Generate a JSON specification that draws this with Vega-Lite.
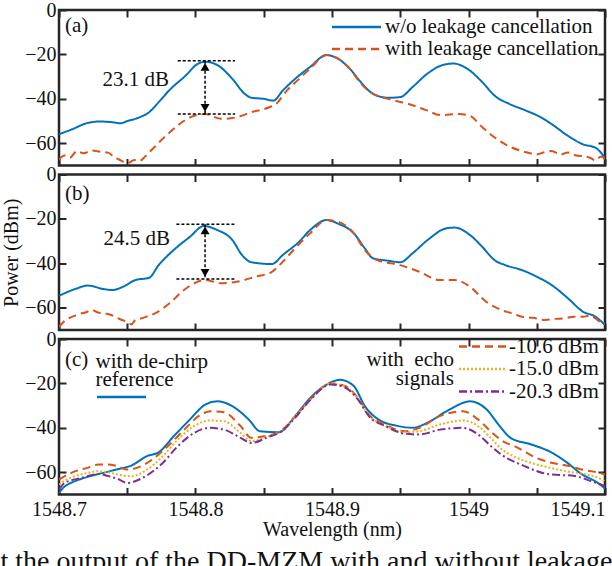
{
  "$schema": "https://vega.github.io/schema/vega-lite/v6.json",
  "padding": {"left": 0, "right": 5, "top": -2, "bottom": 0},
  "config": {
    "font": "Liberation Serif",
    "view": {"stroke": "#262626", "strokeWidth": 2.5},
    "axis": {"domain": false, "grid": false, "tickSize": -7, "tickWidth": 2, "tickColor": "#262626", "labelFont": "Liberation Serif", "labelFontSize": 20, "labelColor": "#111", "titleFont": "Liberation Serif", "titleFontSize": 20, "titleFontWeight": "normal", "titleColor": "#111", "labelFlush": false},
    "legend": {"labelFont": "Liberation Serif", "labelFontSize": 21, "labelColor": "#111", "titleFont": "Liberation Serif", "titleFontSize": 21, "titleFontWeight": "normal", "titleColor": "#111", "symbolType": "stroke", "symbolStrokeWidth": 2.5, "padding": 0, "labelLimit": 400, "titleLimit": 400},
    "title": {"font": "Liberation Serif", "fontSize": 21, "fontWeight": "normal", "color": "#111"},
    "line": {"interpolate": "monotone"}
  },
  "datasets": {
    "a": [
      {"x":1548.700,"p":-55.9,"s":"w/o leakage cancellation"},{"x":1548.710,"p":-53.6,"s":"w/o leakage cancellation"},{"x":1548.720,"p":-51.0,"s":"w/o leakage cancellation"},{"x":1548.730,"p":-50.2,"s":"w/o leakage cancellation"},{"x":1548.740,"p":-50.6,"s":"w/o leakage cancellation"},{"x":1548.745,"p":-51.0,"s":"w/o leakage cancellation"},{"x":1548.750,"p":-50.0,"s":"w/o leakage cancellation"},{"x":1548.759,"p":-48.3,"s":"w/o leakage cancellation"},{"x":1548.766,"p":-46.0,"s":"w/o leakage cancellation"},{"x":1548.773,"p":-41.5,"s":"w/o leakage cancellation"},{"x":1548.781,"p":-36.0,"s":"w/o leakage cancellation"},{"x":1548.793,"p":-29.4,"s":"w/o leakage cancellation"},{"x":1548.801,"p":-24.5,"s":"w/o leakage cancellation"},{"x":1548.807,"p":-23.3,"s":"w/o leakage cancellation"},{"x":1548.816,"p":-24.8,"s":"w/o leakage cancellation"},{"x":1548.827,"p":-31.0,"s":"w/o leakage cancellation"},{"x":1548.836,"p":-37.7,"s":"w/o leakage cancellation"},{"x":1548.841,"p":-39.5,"s":"w/o leakage cancellation"},{"x":1548.850,"p":-40.0,"s":"w/o leakage cancellation"},{"x":1548.857,"p":-40.8,"s":"w/o leakage cancellation"},{"x":1548.864,"p":-36.2,"s":"w/o leakage cancellation"},{"x":1548.873,"p":-31.0,"s":"w/o leakage cancellation"},{"x":1548.884,"p":-25.6,"s":"w/o leakage cancellation"},{"x":1548.896,"p":-20.3,"s":"w/o leakage cancellation"},{"x":1548.904,"p":-21.8,"s":"w/o leakage cancellation"},{"x":1548.913,"p":-26.4,"s":"w/o leakage cancellation"},{"x":1548.921,"p":-32.4,"s":"w/o leakage cancellation"},{"x":1548.930,"p":-37.7,"s":"w/o leakage cancellation"},{"x":1548.941,"p":-39.5,"s":"w/o leakage cancellation"},{"x":1548.950,"p":-39.2,"s":"w/o leakage cancellation"},{"x":1548.959,"p":-34.7,"s":"w/o leakage cancellation"},{"x":1548.970,"p":-28.6,"s":"w/o leakage cancellation"},{"x":1548.981,"p":-24.8,"s":"w/o leakage cancellation"},{"x":1548.989,"p":-24.1,"s":"w/o leakage cancellation"},{"x":1548.999,"p":-26.4,"s":"w/o leakage cancellation"},{"x":1549.010,"p":-32.4,"s":"w/o leakage cancellation"},{"x":1549.019,"p":-38.5,"s":"w/o leakage cancellation"},{"x":1549.030,"p":-42.3,"s":"w/o leakage cancellation"},{"x":1549.041,"p":-45.0,"s":"w/o leakage cancellation"},{"x":1549.053,"p":-48.3,"s":"w/o leakage cancellation"},{"x":1549.061,"p":-51.4,"s":"w/o leakage cancellation"},{"x":1549.073,"p":-56.7,"s":"w/o leakage cancellation"},{"x":1549.084,"p":-60.5,"s":"w/o leakage cancellation"},{"x":1549.093,"p":-62.0,"s":"w/o leakage cancellation"},{"x":1549.100,"p":-66.5,"s":"w/o leakage cancellation"},
      {"x":1548.700,"p":-67.3,"s":"with leakage cancellation"},{"x":1548.704,"p":-65.5,"s":"with leakage cancellation"},{"x":1548.708,"p":-66.5,"s":"with leakage cancellation"},{"x":1548.713,"p":-63.5,"s":"with leakage cancellation"},{"x":1548.718,"p":-64.5,"s":"with leakage cancellation"},{"x":1548.724,"p":-63.2,"s":"with leakage cancellation"},{"x":1548.730,"p":-63.8,"s":"with leakage cancellation"},{"x":1548.736,"p":-64.2,"s":"with leakage cancellation"},{"x":1548.740,"p":-66.0,"s":"with leakage cancellation"},{"x":1548.744,"p":-67.3,"s":"with leakage cancellation"},{"x":1548.748,"p":-68.5,"s":"with leakage cancellation"},{"x":1548.751,"p":-68.8,"s":"with leakage cancellation"},{"x":1548.755,"p":-67.5,"s":"with leakage cancellation"},{"x":1548.759,"p":-68.0,"s":"with leakage cancellation"},{"x":1548.763,"p":-66.0,"s":"with leakage cancellation"},{"x":1548.767,"p":-63.5,"s":"with leakage cancellation"},{"x":1548.776,"p":-58.0,"s":"with leakage cancellation"},{"x":1548.787,"p":-52.0,"s":"with leakage cancellation"},{"x":1548.796,"p":-48.3,"s":"with leakage cancellation"},{"x":1548.807,"p":-46.8,"s":"with leakage cancellation"},{"x":1548.819,"p":-49.0,"s":"with leakage cancellation"},{"x":1548.830,"p":-48.3,"s":"with leakage cancellation"},{"x":1548.841,"p":-46.0,"s":"with leakage cancellation"},{"x":1548.853,"p":-44.0,"s":"with leakage cancellation"},{"x":1548.859,"p":-42.3,"s":"with leakage cancellation"},{"x":1548.867,"p":-36.2,"s":"with leakage cancellation"},{"x":1548.876,"p":-31.0,"s":"with leakage cancellation"},{"x":1548.884,"p":-26.4,"s":"with leakage cancellation"},{"x":1548.896,"p":-20.3,"s":"with leakage cancellation"},{"x":1548.904,"p":-21.8,"s":"with leakage cancellation"},{"x":1548.913,"p":-26.4,"s":"with leakage cancellation"},{"x":1548.921,"p":-33.0,"s":"with leakage cancellation"},{"x":1548.930,"p":-37.7,"s":"with leakage cancellation"},{"x":1548.941,"p":-40.0,"s":"with leakage cancellation"},{"x":1548.956,"p":-42.3,"s":"with leakage cancellation"},{"x":1548.970,"p":-45.3,"s":"with leakage cancellation"},{"x":1548.979,"p":-47.3,"s":"with leakage cancellation"},{"x":1548.993,"p":-46.8,"s":"with leakage cancellation"},{"x":1549.001,"p":-47.6,"s":"with leakage cancellation"},{"x":1549.010,"p":-52.7,"s":"with leakage cancellation"},{"x":1549.019,"p":-57.3,"s":"with leakage cancellation"},{"x":1549.027,"p":-60.5,"s":"with leakage cancellation"},{"x":1549.039,"p":-63.5,"s":"with leakage cancellation"},{"x":1549.045,"p":-64.5,"s":"with leakage cancellation"},{"x":1549.050,"p":-65.0,"s":"with leakage cancellation"},{"x":1549.056,"p":-64.0,"s":"with leakage cancellation"},{"x":1549.061,"p":-63.5,"s":"with leakage cancellation"},{"x":1549.067,"p":-65.0,"s":"with leakage cancellation"},{"x":1549.073,"p":-64.2,"s":"with leakage cancellation"},{"x":1549.079,"p":-65.5,"s":"with leakage cancellation"},{"x":1549.084,"p":-65.8,"s":"with leakage cancellation"},{"x":1549.089,"p":-66.5,"s":"with leakage cancellation"},{"x":1549.093,"p":-67.7,"s":"with leakage cancellation"},{"x":1549.097,"p":-66.0,"s":"with leakage cancellation"},{"x":1549.100,"p":-67.3,"s":"with leakage cancellation"}
    ],
    "b": [
      {"x":1548.700,"p":-54.6,"s":"w/o leakage cancellation"},{"x":1548.713,"p":-51.3,"s":"w/o leakage cancellation"},{"x":1548.721,"p":-50.0,"s":"w/o leakage cancellation"},{"x":1548.733,"p":-51.6,"s":"w/o leakage cancellation"},{"x":1548.739,"p":-52.0,"s":"w/o leakage cancellation"},{"x":1548.747,"p":-50.5,"s":"w/o leakage cancellation"},{"x":1548.756,"p":-47.5,"s":"w/o leakage cancellation"},{"x":1548.766,"p":-46.5,"s":"w/o leakage cancellation"},{"x":1548.773,"p":-40.8,"s":"w/o leakage cancellation"},{"x":1548.784,"p":-34.0,"s":"w/o leakage cancellation"},{"x":1548.796,"p":-28.0,"s":"w/o leakage cancellation"},{"x":1548.806,"p":-23.2,"s":"w/o leakage cancellation"},{"x":1548.816,"p":-25.0,"s":"w/o leakage cancellation"},{"x":1548.827,"p":-29.5,"s":"w/o leakage cancellation"},{"x":1548.834,"p":-36.2,"s":"w/o leakage cancellation"},{"x":1548.841,"p":-39.5,"s":"w/o leakage cancellation"},{"x":1548.856,"p":-40.3,"s":"w/o leakage cancellation"},{"x":1548.864,"p":-36.2,"s":"w/o leakage cancellation"},{"x":1548.876,"p":-30.2,"s":"w/o leakage cancellation"},{"x":1548.884,"p":-25.0,"s":"w/o leakage cancellation"},{"x":1548.896,"p":-20.5,"s":"w/o leakage cancellation"},{"x":1548.904,"p":-22.0,"s":"w/o leakage cancellation"},{"x":1548.916,"p":-26.5,"s":"w/o leakage cancellation"},{"x":1548.924,"p":-33.2,"s":"w/o leakage cancellation"},{"x":1548.930,"p":-37.7,"s":"w/o leakage cancellation"},{"x":1548.941,"p":-38.8,"s":"w/o leakage cancellation"},{"x":1548.950,"p":-39.5,"s":"w/o leakage cancellation"},{"x":1548.959,"p":-35.5,"s":"w/o leakage cancellation"},{"x":1548.970,"p":-29.5,"s":"w/o leakage cancellation"},{"x":1548.984,"p":-24.2,"s":"w/o leakage cancellation"},{"x":1548.990,"p":-23.9,"s":"w/o leakage cancellation"},{"x":1549.001,"p":-27.2,"s":"w/o leakage cancellation"},{"x":1549.010,"p":-32.5,"s":"w/o leakage cancellation"},{"x":1549.019,"p":-38.5,"s":"w/o leakage cancellation"},{"x":1549.027,"p":-40.8,"s":"w/o leakage cancellation"},{"x":1549.039,"p":-43.0,"s":"w/o leakage cancellation"},{"x":1549.050,"p":-46.0,"s":"w/o leakage cancellation"},{"x":1549.061,"p":-49.8,"s":"w/o leakage cancellation"},{"x":1549.073,"p":-55.8,"s":"w/o leakage cancellation"},{"x":1549.084,"p":-61.8,"s":"w/o leakage cancellation"},{"x":1549.093,"p":-64.0,"s":"w/o leakage cancellation"},{"x":1549.097,"p":-66.0,"s":"w/o leakage cancellation"},{"x":1549.100,"p":-67.8,"s":"w/o leakage cancellation"},
      {"x":1548.700,"p":-68.6,"s":"with leakage cancellation"},{"x":1548.704,"p":-66.0,"s":"with leakage cancellation"},{"x":1548.707,"p":-64.8,"s":"with leakage cancellation"},{"x":1548.712,"p":-63.5,"s":"with leakage cancellation"},{"x":1548.716,"p":-62.6,"s":"with leakage cancellation"},{"x":1548.720,"p":-62.0,"s":"with leakage cancellation"},{"x":1548.724,"p":-61.0,"s":"with leakage cancellation"},{"x":1548.728,"p":-62.0,"s":"with leakage cancellation"},{"x":1548.733,"p":-62.6,"s":"with leakage cancellation"},{"x":1548.737,"p":-63.0,"s":"with leakage cancellation"},{"x":1548.741,"p":-64.0,"s":"with leakage cancellation"},{"x":1548.746,"p":-65.5,"s":"with leakage cancellation"},{"x":1548.750,"p":-66.3,"s":"with leakage cancellation"},{"x":1548.753,"p":-67.5,"s":"with leakage cancellation"},{"x":1548.756,"p":-65.5,"s":"with leakage cancellation"},{"x":1548.759,"p":-65.0,"s":"with leakage cancellation"},{"x":1548.764,"p":-64.0,"s":"with leakage cancellation"},{"x":1548.770,"p":-62.6,"s":"with leakage cancellation"},{"x":1548.781,"p":-58.0,"s":"with leakage cancellation"},{"x":1548.790,"p":-52.8,"s":"with leakage cancellation"},{"x":1548.799,"p":-49.0,"s":"with leakage cancellation"},{"x":1548.807,"p":-47.5,"s":"with leakage cancellation"},{"x":1548.819,"p":-49.0,"s":"with leakage cancellation"},{"x":1548.830,"p":-48.3,"s":"with leakage cancellation"},{"x":1548.844,"p":-46.0,"s":"with leakage cancellation"},{"x":1548.856,"p":-43.8,"s":"with leakage cancellation"},{"x":1548.864,"p":-39.2,"s":"with leakage cancellation"},{"x":1548.873,"p":-33.2,"s":"with leakage cancellation"},{"x":1548.884,"p":-26.5,"s":"with leakage cancellation"},{"x":1548.896,"p":-20.5,"s":"with leakage cancellation"},{"x":1548.904,"p":-21.2,"s":"with leakage cancellation"},{"x":1548.916,"p":-26.5,"s":"with leakage cancellation"},{"x":1548.924,"p":-34.0,"s":"with leakage cancellation"},{"x":1548.933,"p":-38.5,"s":"with leakage cancellation"},{"x":1548.950,"p":-40.8,"s":"with leakage cancellation"},{"x":1548.964,"p":-43.8,"s":"with leakage cancellation"},{"x":1548.979,"p":-47.5,"s":"with leakage cancellation"},{"x":1548.990,"p":-47.5,"s":"with leakage cancellation"},{"x":1549.001,"p":-50.5,"s":"with leakage cancellation"},{"x":1549.013,"p":-57.3,"s":"with leakage cancellation"},{"x":1549.024,"p":-61.0,"s":"with leakage cancellation"},{"x":1549.032,"p":-62.5,"s":"with leakage cancellation"},{"x":1549.039,"p":-64.0,"s":"with leakage cancellation"},{"x":1549.047,"p":-64.5,"s":"with leakage cancellation"},{"x":1549.056,"p":-65.5,"s":"with leakage cancellation"},{"x":1549.063,"p":-65.0,"s":"with leakage cancellation"},{"x":1549.070,"p":-64.8,"s":"with leakage cancellation"},{"x":1549.077,"p":-64.0,"s":"with leakage cancellation"},{"x":1549.084,"p":-64.0,"s":"with leakage cancellation"},{"x":1549.089,"p":-63.5,"s":"with leakage cancellation"},{"x":1549.093,"p":-64.8,"s":"with leakage cancellation"},{"x":1549.097,"p":-66.5,"s":"with leakage cancellation"},{"x":1549.100,"p":-67.0,"s":"with leakage cancellation"}
    ],
    "c": [
      {"x":1548.700,"p":-69.3,"s":"reference"},{"x":1548.703,"p":-67.0,"s":"reference"},{"x":1548.708,"p":-65.0,"s":"reference"},{"x":1548.716,"p":-63.0,"s":"reference"},{"x":1548.729,"p":-60.8,"s":"reference"},{"x":1548.743,"p":-58.6,"s":"reference"},{"x":1548.753,"p":-57.0,"s":"reference"},{"x":1548.764,"p":-52.8,"s":"reference"},{"x":1548.773,"p":-51.0,"s":"reference"},{"x":1548.784,"p":-43.8,"s":"reference"},{"x":1548.796,"p":-36.2,"s":"reference"},{"x":1548.807,"p":-29.5,"s":"reference"},{"x":1548.816,"p":-28.0,"s":"reference"},{"x":1548.827,"p":-30.2,"s":"reference"},{"x":1548.839,"p":-36.2,"s":"reference"},{"x":1548.847,"p":-41.5,"s":"reference"},{"x":1548.861,"p":-42.0,"s":"reference"},{"x":1548.873,"p":-34.7,"s":"reference"},{"x":1548.884,"p":-26.5,"s":"reference"},{"x":1548.896,"p":-20.5,"s":"reference"},{"x":1548.906,"p":-18.3,"s":"reference"},{"x":1548.916,"p":-21.2,"s":"reference"},{"x":1548.924,"p":-30.2,"s":"reference"},{"x":1548.936,"p":-37.0,"s":"reference"},{"x":1548.947,"p":-39.0,"s":"reference"},{"x":1548.959,"p":-40.0,"s":"reference"},{"x":1548.970,"p":-37.7,"s":"reference"},{"x":1548.984,"p":-32.5,"s":"reference"},{"x":1549.001,"p":-28.0,"s":"reference"},{"x":1549.013,"p":-31.5,"s":"reference"},{"x":1549.022,"p":-38.5,"s":"reference"},{"x":1549.031,"p":-44.6,"s":"reference"},{"x":1549.046,"p":-47.5,"s":"reference"},{"x":1549.060,"p":-50.8,"s":"reference"},{"x":1549.073,"p":-56.0,"s":"reference"},{"x":1549.082,"p":-60.5,"s":"reference"},{"x":1549.095,"p":-64.9,"s":"reference"},{"x":1549.100,"p":-67.3,"s":"reference"},
      {"x":1548.700,"p":-63.3,"s":"-10.6 dBm"},{"x":1548.705,"p":-61.5,"s":"-10.6 dBm"},{"x":1548.712,"p":-59.5,"s":"-10.6 dBm"},{"x":1548.721,"p":-58.0,"s":"-10.6 dBm"},{"x":1548.729,"p":-56.5,"s":"-10.6 dBm"},{"x":1548.736,"p":-56.5,"s":"-10.6 dBm"},{"x":1548.743,"p":-57.3,"s":"-10.6 dBm"},{"x":1548.750,"p":-58.8,"s":"-10.6 dBm"},{"x":1548.761,"p":-57.0,"s":"-10.6 dBm"},{"x":1548.770,"p":-53.5,"s":"-10.6 dBm"},{"x":1548.781,"p":-47.5,"s":"-10.6 dBm"},{"x":1548.793,"p":-40.0,"s":"-10.6 dBm"},{"x":1548.804,"p":-34.0,"s":"-10.6 dBm"},{"x":1548.811,"p":-32.5,"s":"-10.6 dBm"},{"x":1548.821,"p":-33.0,"s":"-10.6 dBm"},{"x":1548.833,"p":-39.2,"s":"-10.6 dBm"},{"x":1548.841,"p":-44.5,"s":"-10.6 dBm"},{"x":1548.850,"p":-43.8,"s":"-10.6 dBm"},{"x":1548.861,"p":-42.0,"s":"-10.6 dBm"},{"x":1548.873,"p":-35.0,"s":"-10.6 dBm"},{"x":1548.884,"p":-27.2,"s":"-10.6 dBm"},{"x":1548.899,"p":-20.0,"s":"-10.6 dBm"},{"x":1548.909,"p":-21.0,"s":"-10.6 dBm"},{"x":1548.919,"p":-26.5,"s":"-10.6 dBm"},{"x":1548.927,"p":-34.0,"s":"-10.6 dBm"},{"x":1548.939,"p":-38.5,"s":"-10.6 dBm"},{"x":1548.953,"p":-41.5,"s":"-10.6 dBm"},{"x":1548.964,"p":-40.0,"s":"-10.6 dBm"},{"x":1548.979,"p":-34.7,"s":"-10.6 dBm"},{"x":1548.996,"p":-32.5,"s":"-10.6 dBm"},{"x":1549.007,"p":-36.2,"s":"-10.6 dBm"},{"x":1549.017,"p":-42.0,"s":"-10.6 dBm"},{"x":1549.026,"p":-46.3,"s":"-10.6 dBm"},{"x":1549.034,"p":-48.3,"s":"-10.6 dBm"},{"x":1549.049,"p":-53.3,"s":"-10.6 dBm"},{"x":1549.060,"p":-55.6,"s":"-10.6 dBm"},{"x":1549.074,"p":-57.2,"s":"-10.6 dBm"},{"x":1549.082,"p":-58.6,"s":"-10.6 dBm"},{"x":1549.096,"p":-60.3,"s":"-10.6 dBm"},{"x":1549.100,"p":-61.0,"s":"-10.6 dBm"},
      {"x":1548.700,"p":-65.6,"s":"-15.0 dBm"},{"x":1548.705,"p":-63.5,"s":"-15.0 dBm"},{"x":1548.712,"p":-61.7,"s":"-15.0 dBm"},{"x":1548.721,"p":-60.3,"s":"-15.0 dBm"},{"x":1548.729,"p":-59.5,"s":"-15.0 dBm"},{"x":1548.736,"p":-60.0,"s":"-15.0 dBm"},{"x":1548.743,"p":-61.0,"s":"-15.0 dBm"},{"x":1548.753,"p":-61.8,"s":"-15.0 dBm"},{"x":1548.764,"p":-59.0,"s":"-15.0 dBm"},{"x":1548.776,"p":-52.8,"s":"-15.0 dBm"},{"x":1548.787,"p":-45.3,"s":"-15.0 dBm"},{"x":1548.799,"p":-39.2,"s":"-15.0 dBm"},{"x":1548.810,"p":-36.7,"s":"-15.0 dBm"},{"x":1548.821,"p":-37.0,"s":"-15.0 dBm"},{"x":1548.833,"p":-42.3,"s":"-15.0 dBm"},{"x":1548.841,"p":-46.0,"s":"-15.0 dBm"},{"x":1548.853,"p":-43.8,"s":"-15.0 dBm"},{"x":1548.861,"p":-42.0,"s":"-15.0 dBm"},{"x":1548.873,"p":-35.0,"s":"-15.0 dBm"},{"x":1548.884,"p":-27.5,"s":"-15.0 dBm"},{"x":1548.899,"p":-20.0,"s":"-15.0 dBm"},{"x":1548.909,"p":-21.2,"s":"-15.0 dBm"},{"x":1548.919,"p":-27.0,"s":"-15.0 dBm"},{"x":1548.927,"p":-34.4,"s":"-15.0 dBm"},{"x":1548.939,"p":-39.0,"s":"-15.0 dBm"},{"x":1548.953,"p":-42.0,"s":"-15.0 dBm"},{"x":1548.964,"p":-41.5,"s":"-15.0 dBm"},{"x":1548.979,"p":-38.5,"s":"-15.0 dBm"},{"x":1548.996,"p":-36.7,"s":"-15.0 dBm"},{"x":1549.007,"p":-39.2,"s":"-15.0 dBm"},{"x":1549.017,"p":-45.0,"s":"-15.0 dBm"},{"x":1549.024,"p":-49.5,"s":"-15.0 dBm"},{"x":1549.033,"p":-52.8,"s":"-15.0 dBm"},{"x":1549.046,"p":-55.8,"s":"-15.0 dBm"},{"x":1549.060,"p":-58.0,"s":"-15.0 dBm"},{"x":1549.071,"p":-59.5,"s":"-15.0 dBm"},{"x":1549.085,"p":-60.8,"s":"-15.0 dBm"},{"x":1549.097,"p":-63.0,"s":"-15.0 dBm"},{"x":1549.100,"p":-64.0,"s":"-15.0 dBm"},
      {"x":1548.700,"p":-67.8,"s":"-20.3 dBm"},{"x":1548.704,"p":-64.9,"s":"-20.3 dBm"},{"x":1548.716,"p":-62.6,"s":"-20.3 dBm"},{"x":1548.729,"p":-60.8,"s":"-20.3 dBm"},{"x":1548.736,"p":-61.7,"s":"-20.3 dBm"},{"x":1548.743,"p":-63.0,"s":"-20.3 dBm"},{"x":1548.750,"p":-64.8,"s":"-20.3 dBm"},{"x":1548.761,"p":-62.6,"s":"-20.3 dBm"},{"x":1548.776,"p":-55.8,"s":"-20.3 dBm"},{"x":1548.787,"p":-48.3,"s":"-20.3 dBm"},{"x":1548.799,"p":-42.3,"s":"-20.3 dBm"},{"x":1548.810,"p":-40.0,"s":"-20.3 dBm"},{"x":1548.821,"p":-40.8,"s":"-20.3 dBm"},{"x":1548.833,"p":-44.5,"s":"-20.3 dBm"},{"x":1548.841,"p":-46.8,"s":"-20.3 dBm"},{"x":1548.853,"p":-44.2,"s":"-20.3 dBm"},{"x":1548.861,"p":-42.3,"s":"-20.3 dBm"},{"x":1548.873,"p":-35.5,"s":"-20.3 dBm"},{"x":1548.884,"p":-27.5,"s":"-20.3 dBm"},{"x":1548.899,"p":-20.5,"s":"-20.3 dBm"},{"x":1548.909,"p":-21.7,"s":"-20.3 dBm"},{"x":1548.919,"p":-27.2,"s":"-20.3 dBm"},{"x":1548.927,"p":-34.7,"s":"-20.3 dBm"},{"x":1548.939,"p":-39.2,"s":"-20.3 dBm"},{"x":1548.953,"p":-42.6,"s":"-20.3 dBm"},{"x":1548.964,"p":-43.0,"s":"-20.3 dBm"},{"x":1548.979,"p":-40.8,"s":"-20.3 dBm"},{"x":1548.996,"p":-40.0,"s":"-20.3 dBm"},{"x":1549.007,"p":-43.0,"s":"-20.3 dBm"},{"x":1549.017,"p":-48.5,"s":"-20.3 dBm"},{"x":1549.024,"p":-52.0,"s":"-20.3 dBm"},{"x":1549.041,"p":-57.2,"s":"-20.3 dBm"},{"x":1549.058,"p":-60.8,"s":"-20.3 dBm"},{"x":1549.078,"p":-61.7,"s":"-20.3 dBm"},{"x":1549.090,"p":-64.0,"s":"-20.3 dBm"},{"x":1549.100,"p":-66.2,"s":"-20.3 dBm"}
    ],
    "annA": [{"xa":1548.787,"xb":1548.829,"x":1548.807,"top":-22.9,"bot":-46.8,"label":"23.1 dB"}],
    "annB": [{"xa":1548.786,"xb":1548.829,"x":1548.807,"top":-22.4,"bot":-47.0,"label":"24.5 dB"}]
  },
  "bounds": "flush",
  "spacing": 8.5,
  "title": {"text": "t the output of the DD-MZM with and without leakage", "orient": "bottom", "anchor": "start", "frame": "bounds", "fontSize": 28, "offset": 7, "dx": 0, "color": "#111"},
  "vconcat": [
    {
      "width": 546, "height": 155.5,
      "title": {"text": "(a)", "anchor": "start", "frame": "group", "offset": -36, "dx": 6},
      "resolve": {"axis": {"x": "independent", "y": "independent"}},
      "layer": [
        {
          "data": {"name": "a"},
          "mark": {"type": "line", "strokeWidth": 2, "clip": true},
          "encoding": {
            "x": {"field": "x", "type": "quantitative", "scale": {"domain": [1548.7, 1549.1], "nice": false, "zero": false}, "axis": {"orient": "bottom", "title": null, "labels": false, "values": [1548.7,1548.75,1548.8,1548.85,1548.9,1548.95,1549,1549.05,1549.1]}},
            "y": {"field": "p", "type": "quantitative", "scale": {"domain": [-70, 0], "nice": false, "zero": false}, "axis": {"orient": "left", "title": null, "values": [-60,-40,-20,0], "labelPadding": 10}},
            "color": {"field": "s", "type": "nominal", "scale": {"domain": ["w/o leakage cancellation", "with leakage cancellation"], "range": ["#0072BD", "#D95319"]}, "legend": {"title": null, "orient": "none", "legendX": 271.5, "legendY": 6.5, "symbolSize": 2401, "labelOffset": 2.5, "clipHeight": 21, "rowPadding": 0}},
            "strokeDash": {"field": "s", "type": "nominal", "scale": {"domain": ["w/o leakage cancellation", "with leakage cancellation"], "range": [[1, 0], [8, 5]]}, "legend": {"title": null, "orient": "none", "legendX": 271.5, "legendY": 6.5, "symbolSize": 2401, "labelOffset": 2.5, "clipHeight": 21, "rowPadding": 0}}
          }
        },
        {
          "data": {"name": "annA"},
          "mark": {"type": "rule", "color": "black", "strokeWidth": 1.5, "strokeDash": [3, 2]},
          "encoding": {
            "x": {"field": "xa", "type": "quantitative", "scale": {"domain": [1548.7, 1549.1], "nice": false, "zero": false}, "axis": {"orient": "top", "title": null, "labels": false, "values": [1548.7,1548.75,1548.8,1548.85,1548.9,1548.95,1549,1549.05,1549.1]}},
            "x2": {"field": "xb"},
            "y": {"field": "top", "type": "quantitative", "scale": {"domain": [-70, 0], "nice": false, "zero": false}, "axis": {"orient": "right", "title": null, "labels": false, "values": [-60,-40,-20,0]}}
          }
        },
        {
          "data": {"name": "annA"},
          "mark": {"type": "rule", "color": "black", "strokeWidth": 1.5, "strokeDash": [3, 2]},
          "encoding": {
            "x": {"field": "xa", "type": "quantitative", "axis": null},
            "x2": {"field": "xb"},
            "y": {"field": "bot", "type": "quantitative", "axis": null}
          }
        },
        {
          "data": {"name": "annA"},
          "mark": {"type": "rule", "color": "black", "strokeWidth": 1.5, "strokeDash": [3, 2]},
          "encoding": {
            "x": {"field": "x", "type": "quantitative", "axis": null},
            "y": {"field": "top", "type": "quantitative", "axis": null},
            "y2": {"field": "bot"}
          }
        },
        {
          "data": {"name": "annA"},
          "mark": {"type": "point", "shape": "triangle-up", "filled": true, "color": "black", "opacity": 1, "size": 80, "yOffset": 6},
          "encoding": {
            "x": {"field": "x", "type": "quantitative", "axis": null},
            "y": {"field": "top", "type": "quantitative", "axis": null}
          }
        },
        {
          "data": {"name": "annA"},
          "mark": {"type": "point", "shape": "triangle-down", "filled": true, "color": "black", "opacity": 1, "size": 80, "yOffset": -6},
          "encoding": {
            "x": {"field": "x", "type": "quantitative", "axis": null},
            "y": {"field": "bot", "type": "quantitative", "axis": null}
          }
        },
        {
          "data": {"name": "annA"},
          "mark": {"type": "text", "align": "right", "baseline": "middle", "dx": -36, "dy": 19, "fontSize": 21, "font": "Liberation Serif", "color": "#111"},
          "encoding": {
            "x": {"field": "x", "type": "quantitative", "axis": null},
            "y": {"field": "top", "type": "quantitative", "axis": null},
            "text": {"field": "label"}
          }
        }
      ]
    },
    {
      "width": 546, "height": 155.5,
      "title": {"text": "(b)", "anchor": "start", "frame": "group", "offset": -39, "dx": 6},
      "resolve": {"axis": {"x": "independent", "y": "independent"}},
      "layer": [
        {
          "data": {"name": "b"},
          "mark": {"type": "line", "strokeWidth": 2, "clip": true},
          "encoding": {
            "x": {"field": "x", "type": "quantitative", "scale": {"domain": [1548.7, 1549.1], "nice": false, "zero": false}, "axis": {"orient": "bottom", "title": null, "labels": false, "values": [1548.7,1548.75,1548.8,1548.85,1548.9,1548.95,1549,1549.05,1549.1]}},
            "y": {"field": "p", "type": "quantitative", "scale": {"domain": [-70, 0], "nice": false, "zero": false}, "axis": {"orient": "left", "title": "Power (dBm)", "titlePadding": 3, "values": [-60,-40,-20,0], "labelPadding": 10}},
            "color": {"field": "s", "type": "nominal", "scale": {"domain": ["w/o leakage cancellation", "with leakage cancellation"], "range": ["#0072BD", "#D95319"]}, "legend": {"title": null, "orient": "none", "legendX": 271.5, "legendY": 6, "symbolSize": 2401, "labelOffset": 2.5, "clipHeight": 21, "rowPadding": 0}},
            "strokeDash": {"field": "s", "type": "nominal", "scale": {"domain": ["w/o leakage cancellation", "with leakage cancellation"], "range": [[1, 0], [8, 5]]}, "legend": {"title": null, "orient": "none", "legendX": 271.5, "legendY": 6, "symbolSize": 2401, "labelOffset": 2.5, "clipHeight": 21, "rowPadding": 0}}
          }
        },
        {
          "data": {"name": "annB"},
          "mark": {"type": "rule", "color": "black", "strokeWidth": 1.5, "strokeDash": [3, 2]},
          "encoding": {
            "x": {"field": "xa", "type": "quantitative", "scale": {"domain": [1548.7, 1549.1], "nice": false, "zero": false}, "axis": {"orient": "top", "title": null, "labels": false, "values": [1548.7,1548.75,1548.8,1548.85,1548.9,1548.95,1549,1549.05,1549.1]}},
            "x2": {"field": "xb"},
            "y": {"field": "top", "type": "quantitative", "scale": {"domain": [-70, 0], "nice": false, "zero": false}, "axis": {"orient": "right", "title": null, "labels": false, "values": [-60,-40,-20,0]}}
          }
        },
        {
          "data": {"name": "annB"},
          "mark": {"type": "rule", "color": "black", "strokeWidth": 1.5, "strokeDash": [3, 2]},
          "encoding": {
            "x": {"field": "xa", "type": "quantitative", "axis": null},
            "x2": {"field": "xb"},
            "y": {"field": "bot", "type": "quantitative", "axis": null}
          }
        },
        {
          "data": {"name": "annB"},
          "mark": {"type": "rule", "color": "black", "strokeWidth": 1.5, "strokeDash": [3, 2]},
          "encoding": {
            "x": {"field": "x", "type": "quantitative", "axis": null},
            "y": {"field": "top", "type": "quantitative", "axis": null},
            "y2": {"field": "bot"}
          }
        },
        {
          "data": {"name": "annB"},
          "mark": {"type": "point", "shape": "triangle-up", "filled": true, "color": "black", "opacity": 1, "size": 80, "yOffset": 6},
          "encoding": {
            "x": {"field": "x", "type": "quantitative", "axis": null},
            "y": {"field": "top", "type": "quantitative", "axis": null}
          }
        },
        {
          "data": {"name": "annB"},
          "mark": {"type": "point", "shape": "triangle-down", "filled": true, "color": "black", "opacity": 1, "size": 80, "yOffset": -6},
          "encoding": {
            "x": {"field": "x", "type": "quantitative", "axis": null},
            "y": {"field": "bot", "type": "quantitative", "axis": null}
          }
        },
        {
          "data": {"name": "annB"},
          "mark": {"type": "text", "align": "right", "baseline": "middle", "dx": -35, "dy": 14.5, "fontSize": 21, "font": "Liberation Serif", "color": "#111"},
          "encoding": {
            "x": {"field": "x", "type": "quantitative", "axis": null},
            "y": {"field": "top", "type": "quantitative", "axis": null},
            "text": {"field": "label"}
          }
        }
      ]
    },
    {
      "width": 546, "height": 155.5,
      "title": {"text": "(c)", "anchor": "start", "frame": "group", "offset": -41, "dx": 6},
      "resolve": {"axis": {"x": "independent", "y": "independent"}, "scale": {"color": "independent", "strokeDash": "independent"}, "legend": {"color": "independent", "strokeDash": "independent"}},
      "layer": [
        {
          "data": {"name": "c"},
          "transform": [{"filter": "datum.s === 'reference'"}],
          "mark": {"type": "line", "strokeWidth": 2, "clip": true},
          "encoding": {
            "x": {"field": "x", "type": "quantitative", "scale": {"domain": [1548.7, 1549.1], "nice": false, "zero": false}, "axis": {"orient": "bottom", "title": "Wavelength (nm)", "titlePadding": 0, "labelPadding": 12, "format": "~g", "values": [1548.7,1548.75,1548.8,1548.85,1548.9,1548.95,1549,1549.05,1549.1], "labelExpr": "abs(datum.value*10 - round(datum.value*10)) < 0.01 ? datum.label : ''", "labelAlign": {"condition": {"test": "datum.value > 1549.09", "value": "right"}, "value": "center"}}},
            "y": {"field": "p", "type": "quantitative", "scale": {"domain": [-70, 0], "nice": false, "zero": false}, "axis": {"orient": "left", "title": null, "values": [-60,-40,-20,0], "labelPadding": 10}},
            "color": {"field": "s", "type": "nominal", "scale": {"domain": ["reference"], "range": ["#0072BD"]}, "legend": {"title": ["with de-chirp", "reference"], "orient": "none", "legendX": 36.5, "legendY": 12, "titleLineHeight": 18, "titlePadding": 0, "symbolSize": 2401, "clipHeight": 14, "labelExpr": "''"}}
          }
        },
        {
          "data": {"name": "c"},
          "transform": [{"filter": "datum.s !== 'reference'"}],
          "mark": {"type": "line", "strokeWidth": 2, "clip": true},
          "encoding": {
            "x": {"field": "x", "type": "quantitative", "scale": {"domain": [1548.7, 1549.1], "nice": false, "zero": false}, "axis": {"orient": "top", "title": null, "labels": false, "values": [1548.7,1548.75,1548.8,1548.85,1548.9,1548.95,1549,1549.05,1549.1]}},
            "y": {"field": "p", "type": "quantitative", "scale": {"domain": [-70, 0], "nice": false, "zero": false}, "axis": {"orient": "right", "title": null, "labels": false, "values": [-60,-40,-20,0]}},
            "color": {"field": "s", "type": "nominal", "scale": {"domain": ["-10.6 dBm", "-15.0 dBm", "-20.3 dBm"], "range": ["#D95319", "#EDB120", "#7E2F8E"]}, "legend": {"title": ["with\u00a0 echo", "signals"], "titleOrient": "left", "titleAlign": "right", "titleAnchor": "middle", "titleLineHeight": 19, "titlePadding": -84.5, "orient": "none", "legendX": 308, "legendY": -3, "symbolSize": 2209, "labelOffset": 1.5, "clipHeight": 21, "rowPadding": 0.5}},
            "strokeDash": {"field": "s", "type": "nominal", "scale": {"domain": ["-10.6 dBm", "-15.0 dBm", "-20.3 dBm"], "range": [[8, 5], [2, 2], [8, 3, 2, 3]]}, "legend": {"title": ["with\u00a0 echo", "signals"], "titleOrient": "left", "titleAlign": "right", "titleAnchor": "middle", "titleLineHeight": 19, "titlePadding": -84.5, "orient": "none", "legendX": 308, "legendY": -3, "symbolSize": 2209, "labelOffset": 1.5, "clipHeight": 21, "rowPadding": 0.5}}
          }
        }
      ]
    }
  ]
}
